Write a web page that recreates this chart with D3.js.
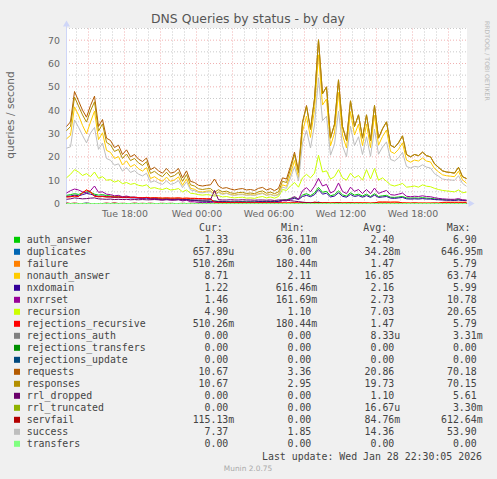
<!DOCTYPE html>
<html lang="en">
<head>
<meta charset="UTF-8">
<title>DNS Queries by status - by day</title>
<script src="https://d3js.org/d3.v7.min.js"></script>
<style>
  body { margin: 0; background: #f0f0f0; }
  svg { display: block; }
  text { font-family: "DejaVu Sans", sans-serif; }
  .mono { font-family: "DejaVu Sans Mono", monospace; font-size: 9.9px; fill: #444; }
</style>
</head>
<body>
<svg id="chart" width="497" height="479"></svg>
<script>
// samples every 20 minutes, Tue 27 Jan 13:10 -> Wed 28 Jan 22:30
const startTime = new Date(2026, 0, 27, 13, 10);
const endTime = new Date(2026, 0, 28, 22, 30);
const stepMinutes = 20;

const requests = [33,35,48,44,40,37,42,46,33,36,
  28,27,24,25,21,23,20,21,19,18,
  19.5,14.5,15.5,14,13,15,13,13.5,15,11,
  14,9.5,9,7.8,7.5,7.8,8,10.5,7.5,6.5,
  6.8,6.2,5.8,6.2,6.4,5.8,6,5.6,6.5,6.9,
  5.8,6.4,5.5,6.5,11,10.5,16,22,14,35,
  42,32,45,70.18,47,50,28,34,53,33,
  27,44,33,38,28,38,27,42,28,32,
  35,25,24,26,29,21,20,21,20.5,22,
  20.5,20,17,15.5,14,13.5,13.3,13,15.5,11.5,
  10.67];

const responses = [31.2,33,45.6,41.8,38,34.9,39.7,43.6,31,34.1,
  26.2,25.1,22.3,23.2,19.3,21.2,18.4,19.3,17.4,16.3,
  17.9,12.9,13.8,12.4,11.5,13.4,11.4,12,13.4,9.5,
  12.4,8,7.5,6.3,6,6.3,6.4,4.9,5.9,5,
  5.3,4.6,4.3,4.7,4.8,4.3,4.5,4.2,5,5.4,
  4.4,4.9,4.2,5,9.5,9,14.8,21,13.2,34.4,
  41.6,31.7,44.8,70.15,47,50,28,34,53,33,
  27,44,33,38,28,38,27,42,28,32,
  35,25,24,26,29,21,20,21,20.5,22,
  20.5,20,17,15.5,14,13.5,13.3,13,15.5,11.5,
  10.67];

const authAnswer = [3.5,3.8,4.2,3.9,4.5,5.0,4.8,4.0,3.6,3.8,
  3.4,3.2,3.0,3.1,2.8,2.9,2.7,2.6,2.5,2.4,
  2.5,2.2,2.3,2.1,2.0,2.1,1.9,1.9,2.0,1.7,
  1.8,1.5,1.4,1.2,1.1,1.0,1.0,1.1,0.9,0.8,
  0.8,0.7,0.7,0.75,0.8,0.7,0.7,0.64,0.8,0.9,
  0.8,0.9,0.8,1.0,1.5,1.6,2.2,2.6,2.0,3.6,
  4.2,3.4,4.5,6.9,4.8,5.2,3.3,3.8,5.4,3.7,
  3.2,4.6,3.6,4.0,3.2,4.0,3.0,4.2,3.0,3.3,
  3.5,2.7,2.6,2.8,3.0,2.4,2.3,2.4,2.3,2.5,
  2.3,2.2,2.0,1.9,1.7,1.6,1.6,1.5,1.7,1.4,
  1.33];

const nonauthAnswer = [27.7,29.2,41.4,37.9,33.5,29.9,34.9,39.6,27.4,30.3,
  22.8,21.9,19.3,20.1,16.5,18.3,15.7,16.7,14.9,13.9,
  15.4,10.7,11.5,10.3,9.5,11.3,9.5,10.1,11.4,7.8,
  10.6,6.5,6.1,5.1,4.9,5.3,5.4,3.8,5.0,4.2,
  4.5,3.9,3.6,3.95,4.0,3.6,3.8,3.56,4.2,4.5,
  3.6,4.0,3.4,4.0,8.0,7.4,12.6,18.4,11.2,30.8,
  37.4,28.3,40.3,63.74,42.2,44.8,24.7,30.2,47.6,29.3,
  23.8,39.4,29.4,34.0,24.8,34.0,24.0,37.8,25.0,28.7,
  31.5,22.3,21.4,23.2,26.0,18.6,17.7,18.6,18.2,19.5,
  18.2,17.8,15.0,13.6,12.3,11.9,11.7,11.5,13.8,10.1,
  8.71];

const nxdomain = [3.0,3.2,3.6,3.3,3.8,4.3,4.0,3.5,3.0,3.2,
  2.9,2.8,2.6,2.7,2.5,2.6,2.4,2.4,2.3,2.2,
  2.3,2.0,2.1,1.9,1.8,1.9,1.8,1.8,1.9,1.6,
  1.7,1.4,1.3,1.1,1.0,1.0,0.9,1.0,0.8,0.8,
  0.7,0.7,0.65,0.7,0.7,0.62,0.7,0.65,0.8,0.8,
  0.7,0.8,0.7,0.9,1.3,1.4,1.8,2.2,1.7,3.0,
  3.5,2.9,3.8,5.99,4.0,4.4,2.8,3.2,4.6,3.1,
  2.7,3.9,3.0,3.4,2.7,3.4,2.6,3.6,2.6,2.8,
  3.0,2.3,2.2,2.4,2.6,2.0,1.9,2.0,1.9,2.1,
  1.9,1.9,1.7,1.6,1.5,1.4,1.4,1.3,1.5,1.3,
  1.22];

const nxrrset = [4.5,5.5,6.2,5.8,5.0,4.6,5.5,7.5,4.8,5.0,
  4.0,3.8,3.3,3.5,2.9,3.2,2.7,2.8,2.5,2.3,
  2.6,1.8,2.0,1.7,1.5,1.8,1.4,1.5,1.7,1.1,
  1.4,0.8,0.7,0.5,0.4,0.4,0.45,0.6,0.35,0.3,
  0.3,0.25,0.2,0.25,0.3,0.2,0.2,0.16,0.3,0.35,
  0.25,0.3,0.2,0.4,1.2,1.1,2.0,3.0,1.8,5.5,
  6.8,5.0,7.4,10.78,7.5,8.2,4.5,5.4,8.8,5.2,
  4.2,7.0,5.2,6.0,4.3,6.0,4.2,6.6,4.3,5.0,
  5.6,3.8,3.6,4.0,4.5,3.1,2.9,3.1,3.0,3.3,
  3.0,2.9,2.5,2.2,2.0,1.9,1.8,1.8,2.1,1.6,
  1.46];

const success = [23.7,24.3,35.8,32.7,29.2,26.0,30.2,32.6,23.2,25.9,
  19.3,18.5,16.4,17.0,13.9,15.4,13.3,14.1,12.6,11.8,
  13.0,9.1,9.7,8.8,8.2,9.7,8.2,8.7,9.8,6.8,
  9.3,5.8,5.5,4.7,4.6,4.9,5.0,3.3,4.7,3.9,
  4.3,3.7,3.45,3.75,3.8,3.5,3.6,3.4,3.9,4.25,
  3.45,3.8,3.3,3.7,7.0,6.5,11.0,15.8,9.7,25.9,
  31.3,23.8,33.6,53.9,35.5,37.4,20.7,25.4,39.6,24.7,
  20.1,33.1,24.8,28.6,21.0,28.6,20.2,31.8,21.1,24.2,
  26.4,18.9,18.2,19.6,21.9,15.9,15.2,15.9,15.6,16.6,
  15.6,15.2,12.8,11.7,10.5,10.2,10.1,9.9,11.9,8.6,
  7.37];

const recursion = [11,12.5,14.5,13.5,12.0,12.8,11.5,13.5,10.8,11.5,
  10.0,10.2,9.2,9.8,8.5,9.0,8.2,8.6,7.8,7.5,
  8.0,6.5,6.8,6.3,6.0,6.6,5.8,6.0,6.4,5.0,
  5.8,4.4,4.2,3.8,3.6,3.8,3.6,3.2,3.4,2.8,
  3.0,2.6,2.4,2.6,2.7,2.3,2.4,2.2,2.7,3.0,
  2.4,2.8,2.3,3.0,6.0,5.6,7.5,9.0,7.0,11.0,
  12.5,11.0,13.0,20.65,13.5,14.0,10.5,11.5,14.5,11.0,
  10.0,13.0,11.0,12.0,10.0,14.5,10.5,15.0,10.0,11.0,
  9.5,8.0,7.5,8.0,8.6,7.0,7.2,7.5,7.0,8.0,
  7.4,7.2,6.5,6.0,5.6,5.4,5.2,5.0,5.8,4.6,
  4.9];

const failure = [2.8,2.9,3.2,3.0,4.6,5.79,5.0,3.1,2.9,3.0,
  2.8,2.9,2.7,2.8,2.6,2.7,2.6,2.6,2.5,2.5,
  2.6,2.4,2.5,2.4,2.3,2.4,2.3,2.3,2.4,2.2,
  2.3,2.2,2.2,2.1,2.1,2.0,2.0,0.6,0.5,0.45,
  0.4,0.4,0.35,0.4,0.4,0.3,0.35,0.3,0.35,0.4,
  0.3,0.35,0.3,0.3,0.3,0.25,0.3,0.3,0.25,0.3,
  0.3,0.25,0.3,0.35,0.3,0.3,0.25,0.3,0.3,0.25,
  0.3,0.3,0.25,0.3,0.3,0.25,0.2,0.25,0.6,0.6,
  0.6,0.55,0.6,0.55,0.3,0.25,0.2,0.25,0.2,0.2,
  0.18,0.2,0.2,0.2,0.45,0.5,0.5,0.5,0.5,0.5,
  0.51];
// rejections_recursive reports the same figures as failure
const rejectionsRecursive = failure.slice();

const rrlDropped = [1.8,2.0,2.4,2.2,2.0,2.1,2.3,2.4,2.0,1.9,
  1.8,1.9,1.7,1.8,1.7,1.8,1.6,1.7,1.6,1.7,
  1.6,1.6,1.7,1.6,1.5,1.6,1.6,1.5,1.6,1.5,
  1.6,1.5,1.5,1.5,1.5,1.5,1.6,5.61,1.6,1.5,
  1.5,1.6,1.5,1.5,1.6,1.5,1.5,1.4,1.5,1.5,
  1.4,1.5,1.3,1.5,1.5,1.5,1.2,1.0,0.8,0.6,
  0.4,0.3,0.2,0,0,0,0,0,0,0,
  0,0,0,0,0,0,0,0,0,0,
  0,0,0,0,0,0,0,0,0,0,
  0,0,0,0,0,0,0,0,0,0,
  0];

const servfail = [0.3,0,0.2,0,0,0.1,0,0,0,0,
  0.2,0,0.3,0,0.1,0,0,0.2,0,0.1,
  0,0.15,0,0,0.1,0,0.1,0,0,0.1,
  0,0.1,0,0.05,0,0,0.1,0,0,0,
  0,0.05,0,0,0,0,0.05,0,0,0,
  0,0,0,0,0,0,0,0.1,0,0.2,
  0.3,0.1,0.61,0.4,0.2,0.3,0.1,0.2,0.3,0.1,
  0.1,0.2,0.1,0.1,0,0.1,0,0.2,0.1,0.1,
  0.1,0,0,0.1,0,0,0,0.1,0,0,
  0,0,0.1,0,0,0,0.1,0,0,0.1,
  0.115];

const duplicates = [0,0,0,0,0,0.2,0,0,0,0,
  0,0,0,0,0,0,0,0,0,0,
  0,0,0,0,0,0,0,0,0,0,
  0,0,0,0,0,0,0,0,0,0,
  0,0,0,0,0,0,0,0,0,0,
  0,0,0,0,0,0,0,0,0,0,
  0,0,0,0.65,0,0,0,0,0.1,0,
  0,0,0,0,0,0,0,0,0,0,
  0,0,0,0,0,0,0,0,0,0,
  0,0,0,0,0,0,0,0,0,0,
  0];

// series that stay at 0.00 over the whole day
const rejectionsAuth = new Array(101).fill(0);
const rejectionsTransfers = new Array(101).fill(0);
const rejectionsUpdate = new Array(101).fill(0);
const rrlTruncated = new Array(101).fill(0);
const transfers = new Array(101).fill(0);

const names = ["auth_answer","duplicates","failure","nonauth_answer","nxdomain","nxrrset",
  "recursion","rejections_recursive","rejections_auth","rejections_transfers","rejections_update",
  "requests","responses","rrl_dropped","rrl_truncated","servfail","success","transfers"];
const colors = ["#00CC00","#0066B3","#FF8000","#FFCC00","#330099","#990099","#CCFF00","#FF0000",
  "#808080","#008F00","#00487D","#B35A00","#B38F00","#6B006B","#8FB300","#B30000","#BEBEBE","#80FF80"];
const curVals = ["1.33","657.89u","510.26m","8.71","1.22","1.46","4.90","510.26m","0.00","0.00",
  "0.00","10.67","10.67","0.00","0.00","115.13m","7.37","0.00"];
const minVals = ["636.11m","0.00","180.44m","2.11","616.46m","161.69m","1.10","180.44m","0.00","0.00",
  "0.00","3.36","2.95","0.00","0.00","0.00","1.85","0.00"];
const avgVals = ["2.40","34.28m","1.47","16.85","2.16","2.73","7.03","1.47","8.33u","0.00",
  "0.00","20.86","19.73","1.10","16.67u","84.76m","14.36","0.00"];
const maxVals = ["6.90","646.95m","5.79","63.74","5.99","10.78","20.65","5.79","3.31m","0.00",
  "0.00","70.18","70.15","5.61","3.30m","612.64m","53.90","0.00"];

const seriesValues = [authAnswer, duplicates, failure, nonauthAnswer, nxdomain, nxrrset,
  recursion, rejectionsRecursive, rejectionsAuth, rejectionsTransfers, rejectionsUpdate,
  requests, responses, rrlDropped, rrlTruncated, servfail, success, transfers];

const yTicks = [0, 10, 20, 30, 40, 50, 60, 70];
const xTickLabels = ["Tue 18:00", "Wed 00:00", "Wed 06:00", "Wed 12:00", "Wed 18:00"];

const times = requests.map((d, i) => new Date(startTime.getTime() + i * stepMinutes * 60000));

const svg = d3.select("#chart");
const x = d3.scaleTime().domain([startTime, endTime]).range([66.5, 466.5]);
const y = d3.scaleLinear().domain([0, 75]).range([203.5, 28.5]);

svg.append("rect").attr("width", 497).attr("height", 479).attr("fill", "#f0f0f0");
svg.append("rect").attr("x", 66).attr("y", 28).attr("width", 401).attr("height", 176).attr("fill", "#fff");

// grid: minor every 5 / every hour, major every 10 / every 3 hours
const minorCol = "rgba(150,150,150,0.5)", majorCol = "rgba(222,79,79,0.45)";
const hours = d3.timeHour.range(d3.timeHour.ceil(startTime), endTime);
const grid = svg.append("g");
grid.selectAll(".vg").data(hours).enter().append("line")
  .attr("x1", d => x(d)).attr("x2", d => x(d)).attr("y1", 28.5).attr("y2", 203)
  .attr("stroke", d => d.getHours() % 3 === 0 ? majorCol : minorCol)
  .attr("stroke-dasharray", "1,2");
grid.selectAll(".hg").data(d3.range(5, 80, 5)).enter().append("line")
  .attr("x1", 66).attr("x2", 467).attr("y1", d => y(d)).attr("y2", d => y(d))
  .attr("stroke", d => d % 10 === 0 ? majorCol : minorCol)
  .attr("stroke-dasharray", "1,2");

// axes
svg.append("line").attr("x1", 66).attr("x2", 470).attr("y1", 203.5).attr("y2", 203.5).attr("stroke", "#CFD6F8");
svg.append("line").attr("x1", 66.5).attr("x2", 66.5).attr("y1", 204).attr("y2", 25).attr("stroke", "#CFD6F8");
svg.append("path").attr("d", "M66.5,20.5L63,26.5L70,26.5Z").attr("fill", "#CFD6F8");
svg.append("path").attr("d", "M474.5,203.5L468.5,200L468.5,207Z").attr("fill", "#CFD6F8");

const yAxis = svg.append("g").attr("transform", "translate(66,0)")
  .call(d3.axisLeft(y).tickValues(yTicks).tickSize(0).tickPadding(6));
yAxis.select(".domain").remove();
yAxis.selectAll("text").attr("fill", "#666").style("font-size", "9.4px").style("font-family", "DejaVu Sans");

const labelTimes = d3.timeHour.every(6).range(startTime, endTime);
const xAxis = svg.append("g").attr("transform", "translate(0,203)")
  .call(d3.axisBottom(x).tickValues(labelTimes).tickSize(0).tickPadding(7)
    .tickFormat((d, i) => xTickLabels[i]));
xAxis.select(".domain").remove();
xAxis.selectAll("text").attr("fill", "#666").style("font-size", "9.4px").style("font-family", "DejaVu Sans");

// series lines
svg.append("clipPath").attr("id", "plotclip").append("rect")
  .attr("x", 66).attr("y", 22).attr("width", 401).attr("height", 183);
const line = d3.line().x((d, i) => x(times[i])).y(d => y(d));
const plot = svg.append("g").attr("clip-path", "url(#plotclip)");
seriesValues.forEach((vals, k) => {
  plot.append("path").datum(vals).attr("d", line)
    .attr("fill", "none").attr("stroke", colors[k]).attr("stroke-width", 1);
});

// titles
svg.append("text").attr("x", 248).attr("y", 23).attr("text-anchor", "middle")
  .attr("fill", "#555").style("font-size", "12.4px").text("DNS Queries by status - by day");
svg.append("text").attr("transform", "translate(14,115) rotate(-90)").attr("text-anchor", "middle")
  .attr("fill", "#666").style("font-size", "10.6px").text("queries / second");
svg.append("text").attr("transform", "translate(485,21) rotate(90)")
  .attr("fill", "#bbb").style("font-size", "6.2px").text("RRDTOOL / TOBI OETIKER");

// legend
const colRight = [228.3, 311.3, 394.3, 476.7];
const headers = [["Cur:", 199], ["Min:", 281], ["Avg:", 363.3], ["Max:", 446.7]];
headers.forEach(h => svg.append("text").attr("class", "mono").attr("x", h[1]).attr("y", 231).text(h[0]));

const leg = svg.append("g");
names.forEach((name, i) => {
  const by = 243.3 + i * 12;
  leg.append("rect").attr("x", 14).attr("y", by - 6.5).attr("width", 6).attr("height", 6).attr("fill", colors[i]);
  leg.append("text").attr("class", "mono").attr("x", 26.7).attr("y", by).text(name);
  [curVals[i], minVals[i], avgVals[i], maxVals[i]].forEach((v, c) => {
    const m = v.match(/^([\d.]+)([a-zA-Z]?)$/);
    leg.append("text").attr("class", "mono").attr("x", colRight[c]).attr("y", by)
      .attr("text-anchor", "end").text(m[1]);
    if (m[2]) leg.append("text").attr("class", "mono").attr("x", colRight[c]).attr("y", by).text(m[2]);
  });
});

svg.append("text").attr("class", "mono").attr("x", 482).attr("y", 459.5).attr("text-anchor", "end")
  .text("Last update: Wed Jan 28 22:30:05 2026");
svg.append("text").attr("x", 248).attr("y", 471).attr("text-anchor", "middle")
  .attr("fill", "#aaa").style("font-size", "7.4px").text("Munin 2.0.75");
</script>
</body>
</html>
